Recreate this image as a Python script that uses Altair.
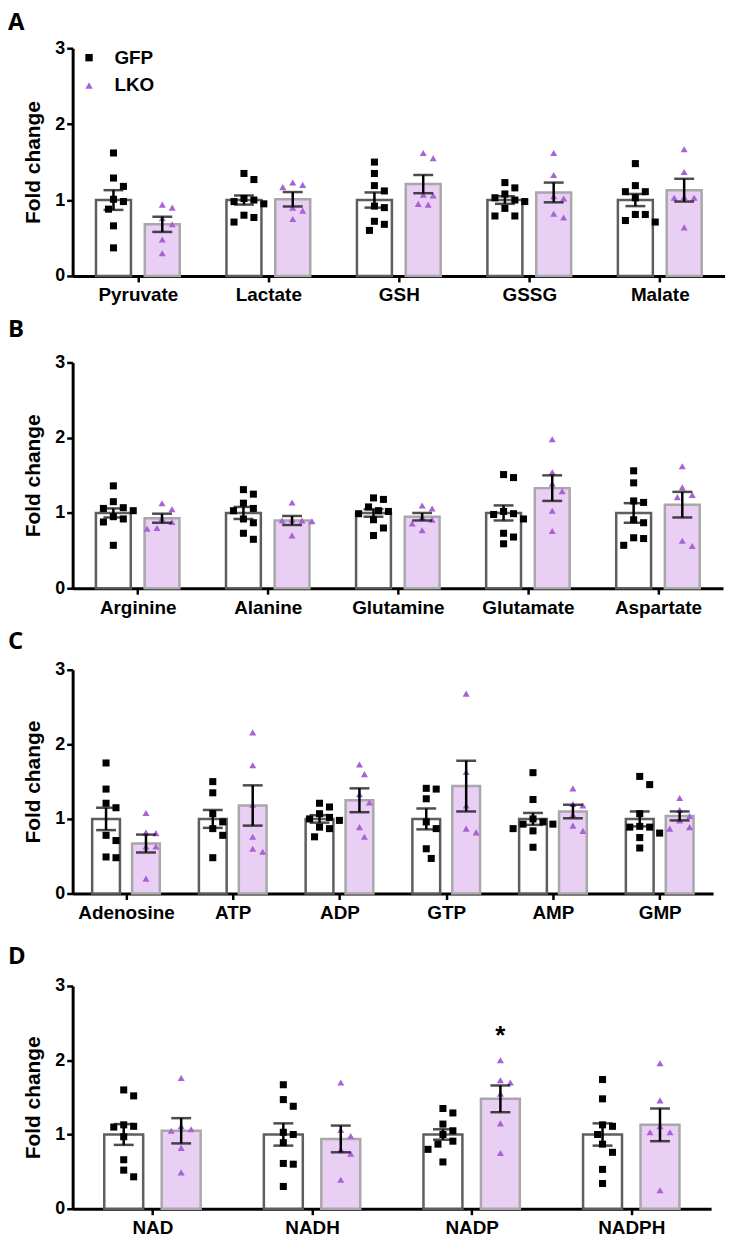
import altair as alt
import pandas as pd

GROUPS = ["GFP", "LKO"]

# ---------------- Panel A ----------------
A_CATS = ["Pyruvate", "Lactate", "GSH", "GSSG", "Malate"]
A_GFP_MEAN = [1.00, 1.00, 1.00, 1.00, 1.00]
A_GFP_SEM = [0.13, 0.06, 0.10, 0.05, 0.08]
A_LKO_MEAN = [0.68, 1.01, 1.21, 1.10, 1.13]
A_LKO_SEM = [0.10, 0.095, 0.12, 0.13, 0.15]
A_GFP_PTS = [
    [1.62, 1.29, 1.18, 1.01, 0.98, 0.88, 0.66, 0.37],
    [1.35, 1.27, 1.02, 1.00, 0.98, 0.95, 0.80, 0.77, 0.71],
    [1.50, 1.35, 1.19, 1.12, 0.92, 0.90, 0.72, 0.68, 0.60],
    [1.23, 1.16, 1.08, 1.03, 1.00, 0.98, 0.89, 0.79, 0.79],
    [1.48, 1.19, 1.11, 1.11, 1.03, 0.81, 0.81, 0.73, 0.71],
]
A_LKO_PTS = [
    [0.94, 0.90, 0.76, 0.68, 0.48, 0.30],
    [1.23, 1.20, 1.17, 0.90, 0.86, 0.75],
    [1.62, 1.55, 1.07, 1.06, 0.95, 0.94],
    [1.62, 1.33, 1.05, 1.02, 0.82, 0.77],
    [1.67, 1.37, 1.04, 1.03, 1.03, 0.64],
]

# ---------------- Panel B ----------------
B_CATS = ["Arginine", "Alanine", "Glutamine", "Glutamate", "Aspartate"]
B_GFP_MEAN = [1.00, 1.00, 1.00, 1.00, 1.00]
B_GFP_SEM = [0.06, 0.08, 0.05, 0.10, 0.13]
B_LKO_MEAN = [0.93, 0.90, 0.95, 1.33, 1.11]
B_LKO_SEM = [0.06, 0.06, 0.05, 0.17, 0.17]
B_GFP_PTS = [
    [1.36, 1.15, 1.07, 1.06, 1.03, 0.95, 0.92, 0.88, 0.57],
    [1.31, 1.25, 1.13, 1.06, 1.03, 0.92, 0.87, 0.73, 0.65],
    [1.20, 1.18, 1.08, 1.03, 1.02, 0.99, 0.91, 0.80, 0.70],
    [1.51, 1.47, 1.02, 0.99, 0.98, 0.92, 0.73, 0.68, 0.59],
    [1.56, 1.40, 1.16, 1.14, 0.91, 0.87, 0.67, 0.66, 0.57],
]
B_LKO_PTS = [
    [1.13, 1.05, 0.93, 0.88, 0.80, 0.79],
    [1.14, 0.91, 0.90, 0.90, 0.89, 0.70],
    [1.10, 1.06, 0.95, 0.91, 0.86, 0.77],
    [1.98, 1.54, 1.39, 1.29, 1.03, 0.76],
    [1.62, 1.34, 1.24, 1.21, 0.63, 0.56],
]

# ---------------- Panel C ----------------
C_CATS = ["Adenosine", "ATP", "ADP", "GTP", "AMP", "GMP"]
C_GFP_MEAN = [1.00, 1.00, 1.00, 1.00, 1.00, 1.00]
C_GFP_SEM = [0.15, 0.12, 0.05, 0.14, 0.08, 0.10]
C_LKO_MEAN = [0.67, 1.18, 1.25, 1.44, 1.10, 1.04]
C_LKO_SEM = [0.12, 0.27, 0.16, 0.34, 0.09, 0.06]
C_GFP_PTS = [
    [1.75, 1.40, 1.21, 1.15, 0.78, 0.71, 0.49, 0.48],
    [1.50, 1.35, 1.07, 0.96, 0.87, 0.78, 0.48],
    [1.21, 1.16, 1.07, 1.02, 1.00, 0.98, 0.89, 0.87, 0.76],
    [1.41, 1.40, 1.27, 0.96, 0.87, 0.60, 0.47],
    [1.62, 1.26, 1.00, 0.96, 0.93, 0.93, 0.87, 0.84, 0.62],
    [1.57, 1.46, 1.07, 0.90, 0.89, 0.89, 0.81, 0.75, 0.61],
]
C_LKO_PTS = [
    [1.08, 0.82, 0.81, 0.63, 0.63, 0.20],
    [2.16, 1.72, 1.19, 0.76, 0.60, 0.56],
    [1.73, 1.60, 1.33, 1.22, 0.89, 0.76],
    [2.68, 1.63, 1.18, 0.87, 0.82],
    [1.41, 1.20, 1.18, 1.06, 0.91, 0.84],
    [1.28, 1.12, 1.04, 0.98, 0.89, 0.87],
]

# ---------------- Panel D ----------------
D_CATS = ["NAD", "NADH", "NADP", "NADPH"]
D_GFP_MEAN = [1.00, 1.00, 1.00, 1.00]
D_GFP_SEM = [0.14, 0.15, 0.07, 0.15]
D_LKO_MEAN = [1.05, 0.94, 1.48, 1.13]
D_LKO_SEM = [0.17, 0.18, 0.18, 0.22]
D_GFP_PTS = [
    [1.60, 1.52, 1.13, 1.11, 1.10, 0.97, 0.66, 0.52, 0.43],
    [1.67, 1.47, 1.38, 1.03, 1.00, 0.89, 0.61, 0.60, 0.30],
    [1.35, 1.29, 1.14, 1.05, 1.00, 0.91, 0.87, 0.80, 0.63],
    [1.74, 1.48, 1.13, 1.11, 1.00, 0.87, 0.76, 0.53, 0.34],
]
D_LKO_PTS = [
    [1.76, 1.11, 1.07, 1.05, 0.82, 0.49],
    [1.70, 1.06, 0.98, 0.80, 0.74, 0.39],
    [2.00, 1.73, 1.70, 1.55, 1.15, 0.75],
    [1.96, 1.46, 1.11, 1.03, 1.03, 0.25],
]
D_SIG = [("NADP", "LKO", "*")]

# ---------------- styling ----------------
FONT = "Liberation Sans"
PURPLE = "#a862d8"
LAV = "#e8cff3"
BAR_FILL = {"GFP": "#ffffff", "LKO": LAV}
BAR_STROKE = {"GFP": "#5e5e5e", "LKO": "#a8a8a8"}
PT_COLOR = ["#000000", PURPLE]
PT_SHAPE = ["square", "triangle-up"]


def swarm(vals, ypx, d=10.0):
    """Simple beeswarm: horizontal pixel offsets so markers don't overlap."""
    step = d / 2.0
    placed = []
    out = [0.0] * len(vals)
    order = sorted(range(len(vals)), key=lambda i: -vals[i])
    for i in order:
        y = vals[i] * ypx
        for k in [0, 1, -1, 2, -2, 3, -3, 4, -4]:
            dx = k * step
            if all((dx - px) ** 2 + (y - py) ** 2 >= d * d for px, py in placed):
                break
        placed.append((dx, y))
        out[i] = dx
    return out


def panel(letter, cats, gm, gs, lm, ls, gpts, lpts, width, height, off, hw,
          title_offset, sig=None, legend=False):
    n = len(cats)
    xpx = width / n
    ypx = height / 3.0
    bars, pts = [], []
    for i, c in enumerate(cats):
        for g, m, s, p, o in [("GFP", gm[i], gs[i], gpts[i], -off),
                              ("LKO", lm[i], ls[i], lpts[i], off)]:
            cx = i + 0.5 + o
            bars.append(dict(cat=c, group=g, x=cx, x1=cx - hw, x2=cx + hw,
                             mean=m, lo=m - s, hi=m + s, zero=0.0))
            for v, dx in zip(p, swarm(p, ypx)):
                pts.append(dict(cat=c, group=g, x=cx + dx / xpx, v=v))
    bdf = pd.DataFrame(bars)
    pdf = pd.DataFrame(pts)

    xscale = alt.Scale(domain=[0, n], nice=False, zero=False)
    yscale = alt.Scale(domain=[0, 3], nice=False)
    label_expr = "[" + ",".join("'%s'" % c for c in cats) + "][floor(datum.value)]"
    xaxis = alt.Axis(values=[i + 0.5 for i in range(n)], labelExpr=label_expr,
                     title=None, labelFontSize=19, labelFontWeight="bold",
                     labelFont=FONT, labelColor="black", tickSize=6,
                     tickWidth=2.5, tickColor="black", domainWidth=3,
                     domainColor="black", labelPadding=4, labelAngle=0,
                     grid=False, labelFlush=False, labelOverlap=False)
    yaxis = alt.Axis(values=[0, 1, 2, 3], format="d", title="Fold change",
                     titleFontSize=21, titleFontWeight="bold", titleFont=FONT,
                     titleColor="black", labelFontSize=18,
                     labelFontWeight="bold", labelFont=FONT,
                     labelColor="black", tickSize=6, tickWidth=2.5,
                     tickColor="black", domainWidth=3, domainColor="black",
                     labelPadding=2, titlePadding=11, grid=False)

    layers = []
    first = True
    for g in GROUPS:
        b = alt.Chart(bdf).transform_filter(alt.datum.group == g).mark_bar(
            strokeWidth=2.5, fill=BAR_FILL[g], stroke=BAR_STROKE[g])
        if first:
            b = b.encode(x=alt.X("x1:Q", scale=xscale, axis=xaxis), x2="x2:Q",
                         y=alt.Y("mean:Q", scale=yscale, axis=yaxis), y2="zero:Q")
            first = False
        else:
            b = b.encode(x="x1:Q", x2="x2:Q", y="mean:Q", y2="zero:Q")
        layers.append(b)

    if legend:
        leg = alt.Legend(orient="none", legendX=7, legendY=0, title=None,
                         labelFontSize=19, labelFontWeight="bold",
                         labelFont=FONT, labelColor="black", symbolSize=55,
                         rowPadding=8, labelOffset=16, padding=0)
    else:
        leg = None
    points = alt.Chart(pdf).mark_point(filled=True, size=50, opacity=1).encode(
        x="x:Q",
        y="v:Q",
        color=alt.Color("group:N", scale=alt.Scale(domain=GROUPS, range=PT_COLOR), legend=leg),
        shape=alt.Shape("group:N", scale=alt.Scale(domain=GROUPS, range=PT_SHAPE), legend=leg),
    )
    layers.append(points)

    base_b = alt.Chart(bdf)
    layers.append(base_b.mark_rule(color="black", strokeWidth=2.5).encode(
        x="x:Q", y="lo:Q", y2="hi:Q"))
    for f in ["lo", "hi"]:
        layers.append(base_b.mark_tick(orient="horizontal", size=20, thickness=2.5,
                                       color="black").encode(x="x:Q", y=f + ":Q"))

    if sig:
        srows = []
        for c, g, t in sig:
            b = bdf[(bdf.cat == c) & (bdf.group == g)].iloc[0]
            top = max(pdf[(pdf.cat == c) & (pdf.group == g)].v.max(), b.hi)
            srows.append(dict(x=b.x, y=top + 0.32, t=t))
        stars = alt.Chart(pd.DataFrame(srows)).mark_text(
            fontSize=26, fontWeight="bold", font=FONT, color="black",
            baseline="middle").encode(x="x:Q", y="y:Q", text="t:N")
        layers.append(stars)

    return alt.layer(*layers).properties(
        width=width, height=height,
        title=alt.TitleParams(letter, anchor="start", frame="group", dx=-65,
                              fontSize=24, font="Open Sans", fontWeight="bold",
                              color="black", offset=title_offset),
    )


pA = panel("A", A_CATS, A_GFP_MEAN, A_GFP_SEM, A_LKO_MEAN, A_LKO_SEM,
           A_GFP_PTS, A_LKO_PTS, 656, 229, 0.187, 0.134, 4, legend=True)
pB = panel("B", B_CATS, B_GFP_MEAN, B_GFP_SEM, B_LKO_MEAN, B_LKO_SEM,
           B_GFP_PTS, B_LKO_PTS, 654, 227, 0.187, 0.134, 12)
pC = panel("C", C_CATS, C_GFP_MEAN, C_GFP_SEM, C_LKO_MEAN, C_LKO_SEM,
           C_GFP_PTS, C_LKO_PTS, 644, 225, 0.187, 0.13, 7)
pD = panel("D", D_CATS, D_GFP_MEAN, D_GFP_SEM, D_LKO_MEAN, D_LKO_SEM,
           D_GFP_PTS, D_LKO_PTS, 642, 224, 0.18, 0.122, 8, sig=D_SIG)

inner = alt.vconcat(pA, pB, pC, spacing=13).resolve_scale(
    x="independent", y="independent", color="independent", shape="independent"
).resolve_legend(color="independent", shape="independent")

chart = alt.vconcat(inner, pD, spacing=23).resolve_scale(
    x="independent", y="independent", color="independent", shape="independent"
).resolve_legend(color="independent", shape="independent").properties(
    padding={"left": 0, "top": 0, "right": 0, "bottom": 0},
    background="white",
).configure_view(stroke="transparent", strokeWidth=0)

chart.save("out.html", embed_options={"renderer": "svg", "actions": False})
